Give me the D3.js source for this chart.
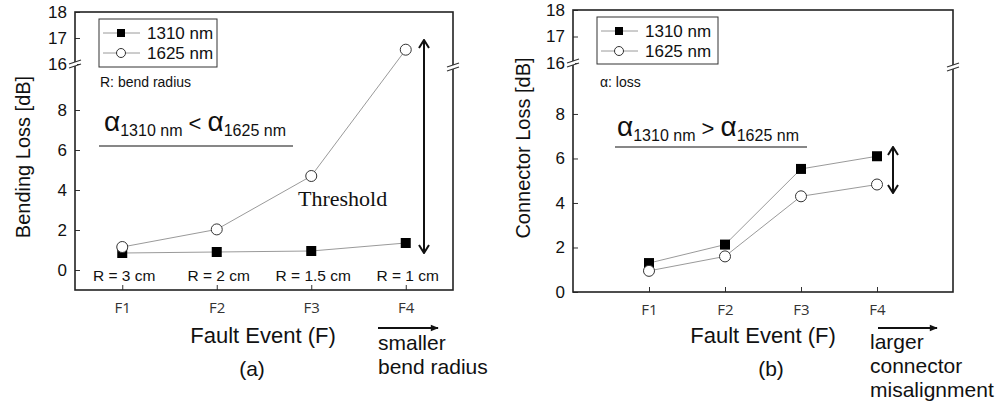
<!DOCTYPE html>
<html>
<head>
<meta charset="utf-8">
<script src="https://cdn.jsdelivr.net/npm/d3@7"></script>
<style>
  body { margin: 0; background: #fff; }
  svg { font-family: Arial, "Liberation Sans", sans-serif; }
</style>
</head>
<body>
<svg id="chart" width="995" height="408"></svg>
<script>
// data
const faultEvents = ["F1", "F2", "F3", "F4"];
const bendLoss1310 = [0.85, 0.9, 0.95, 1.35];
const bendLoss1625 = [1.15, 2.03, 4.7, 16.55];
const connLoss1310 = [1.3, 2.13, 5.53, 6.1];
const connLoss1625 = [0.95, 1.6, 4.3, 4.83];
const bendRadius = ["R = 3 cm", "R = 2 cm", "R = 1.5 cm", "R = 1 cm"];
const yTicks = [0, 2, 4, 6, 8, 16, 17, 18];
const seriesNames = ["1310 nm", "1625 nm"];

const svg = d3.select("#chart");

// arrow heads
const defs = svg.append("defs");
defs.append("marker")
    .attr("id", "head")
    .attr("viewBox", "0 -6 10 12")
    .attr("refX", 9).attr("refY", 0)
    .attr("markerWidth", 10).attr("markerHeight", 12)
    .attr("markerUnits", "userSpaceOnUse")
    .attr("orient", "auto-start-reverse")
    .append("path")
    .attr("d", "M1,-5 L9,0 L1,5")
    .attr("fill", "none").attr("stroke", "#111").attr("stroke-width", 2);
defs.append("marker")
    .attr("id", "solid")
    .attr("viewBox", "0 -5 10 10")
    .attr("refX", 9).attr("refY", 0)
    .attr("markerWidth", 10).attr("markerHeight", 8)
    .attr("markerUnits", "userSpaceOnUse")
    .attr("orient", "auto")
    .append("path")
    .attr("d", "M0,-4 L10,0 L0,4 Z")
    .attr("fill", "#111");

function breakMark(g, x, y) {
    g.append("rect").attr("x", x - 2).attr("y", y - 2).attr("width", 4).attr("height", 4).attr("fill", "#fff");
    [-2, 2].forEach(function (d) {
        g.append("line")
            .attr("x1", x - 6).attr("y1", y + d + 2)
            .attr("x2", x + 6).attr("y2", y + d - 2)
            .attr("stroke", "#333").attr("stroke-width", 1.2);
    });
}

function drawPanel(p) {
    let g = svg.append("g").attr("class", "panel");
    let x = d3.scaleLinear().domain(p.xDomain).range([p.left, p.right]);
    let y = d3.scaleLinear().domain(p.yDomain).range(p.yRange);

    g.append("g")
        .attr("transform", "translate(" + p.left + ",0)")
        .call(d3.axisLeft(y).tickValues(yTicks).tickSizeInner(-5).tickSizeOuter(0).tickPadding(8))
        .call(a => a.select(".domain").remove())
        .call(a => a.selectAll("text").attr("font-size", 17).attr("font-family", "Arial, 'Liberation Sans'").attr("fill", "#111"))
        .call(a => a.selectAll("line").attr("stroke", "#333"));

    g.append("g")
        .attr("transform", "translate(0," + p.bottom + ")")
        .call(d3.axisBottom(x).tickValues([1, 2, 3, 4]).tickFormat(d => faultEvents[d - 1])
            .tickSizeInner(-5).tickSizeOuter(0).tickPadding(12))
        .call(a => a.select(".domain").remove())
        .call(a => a.selectAll("text").attr("font-size", 15).attr("font-family", "'Open Sans', 'Noto Sans'").attr("fill", "#333"))
        .call(a => a.selectAll("line").attr("stroke", "#333"));

    g.append("rect")
        .attr("x", p.left).attr("y", p.top)
        .attr("width", p.right - p.left).attr("height", p.bottom - p.top)
        .attr("fill", "none").attr("stroke", "#222").attr("stroke-width", 1.6);

    breakMark(g, p.left, p.breakL);
    breakMark(g, p.right, p.breakR);

    let line = d3.line().x((d, i) => x(i + 1)).y(d => y(d));
    [p.s1625, p.s1310].forEach(function (s) {
        g.append("path").attr("d", line(s)).attr("fill", "none")
            .attr("stroke", "#9a9a9a").attr("stroke-width", 1);
    });

    g.selectAll(".sq").data(p.s1310).enter().append("rect")
        .attr("x", (d, i) => x(i + 1) - 5).attr("y", d => y(d) - 5)
        .attr("width", 10).attr("height", 10).attr("fill", "#000");
    g.selectAll(".ci").data(p.s1625).enter().append("circle")
        .attr("cx", (d, i) => x(i + 1)).attr("cy", d => y(d)).attr("r", 5.5)
        .attr("fill", "#fff").attr("stroke", "#333").attr("stroke-width", 1);

    // legend
    let lg = g.append("g").attr("transform", "translate(" + p.legend[0] + "," + p.legend[1] + ")");
    lg.append("rect").attr("width", p.legend[2]).attr("height", p.legend[3])
        .attr("fill", "#fff").attr("stroke", "#333").attr("stroke-width", 1);
    seriesNames.forEach(function (name, i) {
        let cy = 14 + i * 20;
        lg.append("line").attr("x1", 4).attr("x2", 41).attr("y1", cy).attr("y2", cy)
            .attr("stroke", "#9a9a9a");
        if (i === 0) {
            lg.append("rect").attr("x", 18).attr("y", cy - 4).attr("width", 8).attr("height", 8).attr("fill", "#000");
        } else {
            lg.append("circle").attr("cx", 22).attr("cy", cy).attr("r", 4.5)
                .attr("fill", "#fff").attr("stroke", "#333");
        }
        lg.append("text").attr("x", 48).attr("y", cy + 6).attr("font-size", 17).attr("fill", "#111").text(name);
    });

    g.append("text").attr("x", p.note[0]).attr("y", p.note[1])
        .attr("font-size", 14).attr("fill", "#111").text(p.noteText);

    // alpha comparison
    let at = g.append("text").attr("x", p.alpha[0]).attr("y", p.alpha[1]).attr("fill", "#111");
    at.append("tspan").attr("font-size", 28).text("α");
    at.append("tspan").attr("font-size", 16).attr("dy", 5).text("1310 nm");
    at.append("tspan").attr("font-size", 22).attr("dy", -5).text(" " + p.sign + " ");
    at.append("tspan").attr("font-size", 28).text("α");
    at.append("tspan").attr("font-size", 16).attr("dy", 5).text("1625 nm");
    g.append("line").attr("x1", p.alpha[2]).attr("x2", p.alpha[3])
        .attr("y1", p.alpha[4]).attr("y2", p.alpha[4]).attr("stroke", "#111").attr("stroke-width", 1.2);

    // double arrow
    g.append("line").attr("x1", p.dbl[0]).attr("x2", p.dbl[0]).attr("y1", p.dbl[1]).attr("y2", p.dbl[2])
        .attr("stroke", "#111").attr("stroke-width", 2)
        .attr("marker-start", "url(#head)").attr("marker-end", "url(#head)");

    // axis titles
    g.append("text")
        .attr("transform", "translate(" + p.yTitle[0] + "," + p.yTitle[1] + ") rotate(-90)")
        .attr("text-anchor", "middle").attr("font-size", 20).attr("fill", "#111").text(p.yLabel);
    g.append("text").attr("x", p.xTitle[0]).attr("y", p.xTitle[1])
        .attr("text-anchor", "middle").attr("font-size", 22).attr("fill", "#111").text("Fault Event (F)");
    g.append("text").attr("x", p.tag[0]).attr("y", p.tag[1])
        .attr("text-anchor", "middle").attr("font-size", 21).attr("fill", "#111").text(p.tagText);

    // direction arrow and caption
    g.append("line").attr("x1", p.dir[0]).attr("x2", p.dir[1]).attr("y1", p.dir[2]).attr("y2", p.dir[2])
        .attr("stroke", "#111").attr("stroke-width", 1.8).attr("marker-end", "url(#solid)");
    p.dirText.forEach(function (t, i) {
        g.append("text").attr("x", p.dir[3]).attr("y", p.dir[4] + i * 24)
            .attr("font-size", 21).attr("fill", "#111").text(t);
    });

    return {g: g, x: x, y: y};
}

let a = drawPanel({
    left: 75, right: 453, top: 12, bottom: 290,
    xDomain: [0.5, 4.5], yDomain: [-1, 10.2, 16, 18], yRange: [290, 66, 64, 12],
    breakL: 64, breakR: 67,
    s1310: bendLoss1310, s1625: bendLoss1625,
    legend: [99, 19, 118, 48],
    note: [100, 87], noteText: "R: bend radius",
    alpha: [104, 131, 99, 293, 146], sign: "<",
    dbl: [424, 40, 253],
    yLabel: "Bending Loss [dB]", yTitle: [30, 157],
    xTitle: [263, 343], tag: [252, 376], tagText: "(a)",
    dir: [378, 438, 328, 378, 350], dirText: ["smaller", "bend radius"]
});

// bend radius labels and threshold note on panel (a)
a.g.selectAll(".rlab").data(bendRadius).enter().append("text")
    .attr("x", (d, i) => a.x(i + 1) + 2).attr("y", 281)
    .attr("text-anchor", "middle").attr("font-size", 15.5).attr("fill", "#111").text(d => d);
a.g.append("text").attr("x", 298).attr("y", 206)
    .attr("font-family", "'Liberation Serif', 'Times New Roman', serif")
    .attr("font-size", 22).attr("fill", "#111").text("Threshold");

drawPanel({
    left: 573, right: 953, top: 10, bottom: 292,
    xDomain: [0, 5], yDomain: [0, 10.2, 16, 18], yRange: [292, 65, 63, 10],
    breakL: 63, breakR: 67,
    s1310: connLoss1310, s1625: connLoss1625,
    legend: [597, 17, 121, 47],
    note: [600, 87], noteText: "α: loss",
    alpha: [617, 136, 615, 807, 147], sign: ">",
    dbl: [893, 147, 193],
    yLabel: "Connector Loss [dB]", yTitle: [530, 148],
    xTitle: [763, 343], tag: [771, 376], tagText: "(b)",
    dir: [878, 937, 328, 870, 349], dirText: ["larger", "connector", "misalignment"]
});
</script>
</body>
</html>
